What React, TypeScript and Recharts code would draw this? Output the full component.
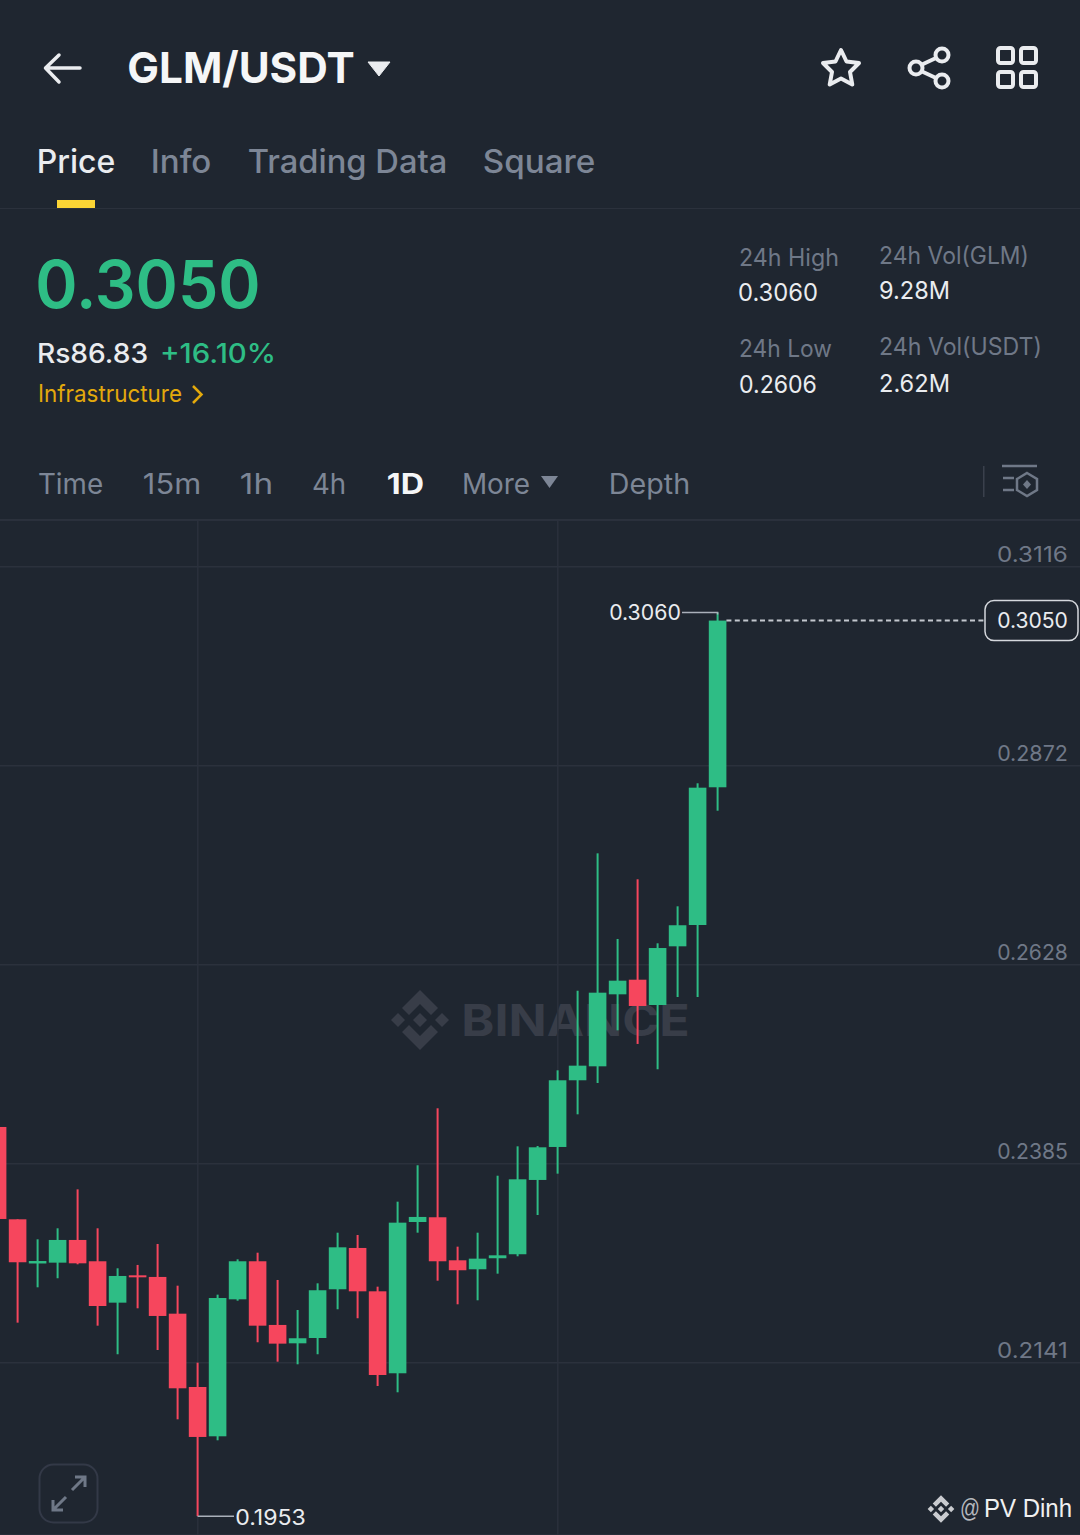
import { ComposedChart, Bar, XAxis, YAxis, CartesianGrid } from 'recharts'

// one slot per day, slots after the last candle stay empty
const slots = [
  'd00', 'd01', 'd02', 'd03', 'd04', 'd05', 'd06', 'd07', 'd08', 'd09', 'd10',
  'd11', 'd12', 'd13', 'd14', 'd15', 'd16', 'd17', 'd18', 'd19', 'd20', 'd21',
  'd22', 'd23', 'd24', 'd25', 'd26', 'd27', 'd28', 'd29', 'd30', 'd31', 'd32',
  'd33', 'd34', 'd35', 'd36', 'd37', 'd38', 'd39', 'd40', 'd41', 'd42', 'd43',
  'd44', 'd45', 'd46', 'd47', 'd48', 'd49', 'd50', 'd51', 'd52', 'd53', 'd54',
]

const opens = [
  0.24297, 0.23166, 0.22625, 0.22635, 0.22913, 0.22652, 0.22145, 0.2248, 0.2246, 0.2201,
  0.21112, 0.20508, 0.22186, 0.22652, 0.21872, 0.21647, 0.21712, 0.22309, 0.22815, 0.22284,
  0.2128, 0.23133, 0.23191, 0.22664, 0.22554, 0.22689, 0.22738, 0.23648, 0.24052, 0.24869,
  0.2504, 0.25922, 0.26101, 0.25791, 0.2651, 0.26771, 0.28458,
]
const closes = [
  0.2317, 0.2264, 0.22655, 0.22913, 0.22627, 0.22104, 0.22472, 0.22456, 0.21982, 0.21096,
  0.205, 0.22202, 0.22652, 0.21863, 0.21643, 0.21709, 0.22297, 0.22823, 0.22284, 0.21259,
  0.23125, 0.23195, 0.22652, 0.22542, 0.22684, 0.22725, 0.23656, 0.24048, 0.24869, 0.25048,
  0.25942, 0.26089, 0.25779, 0.26489, 0.26768, 0.28453, 0.305,
]
const highs = [
  0.24297, 0.23166, 0.22921, 0.23056, 0.23533, 0.23056, 0.22566, 0.22607, 0.22864, 0.22353,
  0.2141, 0.22243, 0.22676, 0.22757, 0.22423, 0.22055, 0.22382, 0.23002, 0.22974, 0.22341,
  0.23382, 0.23828, 0.24526, 0.22831, 0.23002, 0.237, 0.2406, 0.24064, 0.24991, 0.25966,
  0.27649, 0.266, 0.27331, 0.26547, 0.27, 0.28507, 0.306,
]
const lows = [
  0.2317, 0.219, 0.22333, 0.22444, 0.22615, 0.21863, 0.21513, 0.22076, 0.21565, 0.20716,
  0.1953, 0.20459, 0.22169, 0.2166, 0.21422, 0.2139, 0.21513, 0.22064, 0.21954, 0.21124,
  0.21047, 0.23002, 0.22414, 0.22125, 0.22174, 0.225, 0.22713, 0.23219, 0.23725, 0.24452,
  0.24836, 0.25481, 0.25314, 0.25004, 0.25889, 0.25889, 0.28171,
]

const priceTicks = [0.3116, 0.28722, 0.26284, 0.23848, 0.2141]
const dayLines = ['d10', 'd28']
const tabs = [
  { text: 'Price', x: 38, w: 76, active: true },
  { text: 'Info', x: 152, w: 58 },
  { text: 'Trading Data', x: 249, w: 197 },
  { text: 'Square', x: 484, w: 110 },
]
const intervals = [
  { text: 'Time', x: 39, w: 63 },
  { text: '15m', x: 144, w: 56 },
  { text: '1h', x: 241, w: 31 },
  { text: '4h', x: 313, w: 32 },
  { text: '1D', x: 388, w: 35, active: true },
  { text: 'More', x: 463, w: 66 },
  { text: 'Depth', x: 610, w: 79 },
]

const data = slots.map((slot, i) => ({
  slot,
  open: opens[i],
  close: closes[i],
  range: i < opens.length ? [lows[i], highs[i]] : null,
}))

const bg = '#1f2630'
const up = '#2ebd85'
const down = '#f6465d'
const light = '#eaecef'
const grey = '#7d8696'
const lineColor = '#2b313c'
const font = 'Inter, sans-serif'

const highIndex = highs.indexOf(Math.max(...highs))
const lowIndex = lows.indexOf(Math.min(...lows))
const lastIndex = opens.length - 1

function Label({ x, y, w, size, color = light, weight = 400, family = font, children }: any) {
  const bearing = size * 0.04
  return (
    <text x={x - bearing} y={y} textLength={w + bearing * 2} lengthAdjust="spacingAndGlyphs" fontSize={size} fill={color} fontWeight={weight} fontFamily={family}>
      {children}
    </text>
  )
}

function Candle(props: any) {
  const { x, y, width, height, index, payload } = props
  if (!payload || !payload.range) return null
  const [low, high] = payload.range
  const top = Math.min(y, y + height)
  const span = Math.abs(height)
  const perUnit = span / (high - low)
  const yOf = (v: number) => top + (high - v) * perUnit
  const color = payload.close >= payload.open ? up : down
  const mid = x + width / 2
  const bodyTop = yOf(Math.max(payload.open, payload.close))
  const bodyBottom = yOf(Math.min(payload.open, payload.close))
  return (
    <g>
      <line x1={mid} x2={mid} y1={top} y2={top + span} stroke={color} strokeWidth={2} />
      <rect x={x} y={bodyTop} width={width} height={Math.max(bodyBottom - bodyTop, 2)} fill={color} />
      {index === highIndex && (
        <g>
          <polyline points={`${mid},${top + 2} ${mid},${top} 682,${top}`} fill="none" stroke="#aab0ba" strokeWidth={1.5} />
          <Label x={610} y={top + 8} w={70} size={21}>{high.toFixed(4)}</Label>
        </g>
      )}
      {index === lowIndex && (
        <g>
          <line x1={mid} x2={234} y1={top + span} y2={top + span} stroke="#aab0ba" strokeWidth={1.5} />
          <Label x={236} y={top + span + 9} w={69} size={21}>{low.toFixed(4)}</Label>
        </g>
      )}
      {index === lastIndex && (
        <g>
          <line x1={x + width} x2={984} y1={bodyTop} y2={bodyTop} stroke="#c3c7ce" strokeWidth={2} strokeDasharray="5 3.4" />
          <rect x={985} y={bodyTop - 20} width={93} height={40} rx={9} fill={bg} stroke="#d5d8dd" strokeWidth={1.5} />
          <Label x={998} y={bodyTop + 7.5} w={69} size={21.5}>{payload.close.toFixed(4)}</Label>
        </g>
      )}
    </g>
  )
}

function PriceTick({ y, payload }: any) {
  return (
    <Label x={998} y={y - 5} w={69} size={21.5} color="#6f7887">
      {payload.value.toFixed(4)}
    </Label>
  )
}

function BinanceMark({ cx, cy, s, color }: any) {
  // logo is drawn on a -30..30 box and scaled
  return (
    <g transform={`translate(${cx} ${cy}) scale(${s})`} fill={color}>
      <path d="M0 -30 L18 -12 L11 -5 L0 -16 L-11 -5 L-18 -12 Z" />
      <path d="M0 30 L18 12 L11 5 L0 16 L-11 5 L-18 12 Z" />
      <path d="M0 -7 L7 0 L0 7 L-7 0 Z" />
      <path d="M-22 -7 L-15 0 L-22 7 L-29 0 Z" />
      <path d="M22 -7 L29 0 L22 7 L15 0 Z" />
    </g>
  )
}

function Page() {
  return (
    <svg width={1080} height={1535} style={{ position: 'absolute', left: 0, top: 0 }}>
      {/* top bar */}
      <path d="M80 68 H46 M59 55 L45.5 68 L59 82" fill="none" stroke={light} strokeWidth={3.5} strokeLinecap="round" strokeLinejoin="round" />
      <Label x={129} y={83} w={224} size={43} weight={700} color="#f5f6f7">GLM/USDT</Label>
      <path d="M368 62 H390 L379 76 Z" fill={light} stroke={light} strokeLinejoin="round" />
      <polygon
        points="841,50 846.5,61.5 859,63 850,72 852.3,84.5 841,78.5 829.7,84.5 832,72 823,63 835.5,61.5"
        fill="none" stroke={light} strokeWidth={4} strokeLinejoin="round"
      />
      <g fill="none" stroke={light} strokeWidth={4}>
        <path d="M921 65 L936 58 M921 71 L936 78" />
        <circle cx={916} cy={68} r={6.5} />
        <circle cx={942} cy={55} r={6.5} />
        <circle cx={942} cy={81} r={6.5} />
        <rect x={998} y={48} width={15} height={15} rx={2.5} />
        <rect x={1021} y={48} width={15} height={15} rx={2.5} />
        <rect x={998} y={72} width={15} height={15} rx={2.5} />
        <rect x={1021} y={72} width={15} height={15} rx={2.5} />
      </g>

      {/* tabs */}
      {tabs.map((t) => (
        <Label key={t.text} x={t.x} y={173} w={t.w} size={32} weight={500} color={t.active ? light : grey}>{t.text}</Label>
      ))}
      <rect x={57} y={200} width={38} height={8} fill="#fcd535" />
      <rect x={0} y={208} width={1080} height={1} fill={lineColor} />

      {/* price block */}
      <Label x={38} y={308} w={220} size={66} weight={600} color={up}>0.3050</Label>
      <Label x={38} y={363} w={109} size={27} weight={500}>Rs86.83</Label>
      <Label x={161} y={363} w={114} size={27} weight={500} color={up}>+16.10%</Label>
      <Label x={39} y={402} w={142} size={24} color="#e3a90c">Infrastructure</Label>
      <path d="M193 386 L201.5 394.5 L193 403" fill="none" stroke="#e3a90c" strokeWidth={2.5} />

      <Label x={740} y={266} w={98} size={24} color="#6f7887">24h High</Label>
      <Label x={739} y={301} w={78} size={24}>0.3060</Label>
      <Label x={880} y={264} w={148} size={24} color="#6f7887">24h Vol(GLM)</Label>
      <Label x={880} y={299} w={69} size={24}>9.28M</Label>
      <Label x={740} y={357} w={91} size={24} color="#6f7887">24h Low</Label>
      <Label x={740} y={393} w={76} size={24}>0.2606</Label>
      <Label x={880} y={355} w={161} size={24} color="#6f7887">24h Vol(USDT)</Label>
      <Label x={880} y={392} w={69} size={24}>2.62M</Label>

      {/* interval row */}
      {intervals.map((t) => (
        <Label key={t.text} x={t.x} y={494} w={t.w} size={28} weight={t.active ? 700 : 400} color={t.active ? '#f5f6f7' : grey}>{t.text}</Label>
      ))}
      <path d="M541 476 H558 L549.5 488 Z" fill={grey} />
      <rect x={983} y={466} width={1.5} height={31} fill="#3a404c" />
      <g fill="none" stroke="#6f7887" strokeWidth={2.5}>
        <path d="M1002 466 H1037 M1003 478 H1014 M1003 490 H1014" />
        <path d="M1027 473 L1037 479 V490 L1027 496 L1017 490 V479 Z" />
      </g>
      <path d="M1027 480 L1031 484.5 L1027 489 L1023 484.5 Z" fill="#6f7887" />
      <rect x={0} y={519} width={1080} height={2} fill={lineColor} />

      {/* watermark sits under the chart */}
      <BinanceMark cx={420} cy={1020} s={1} color="#383d48" />
      <Label x={463} y={1036} w={225} size={44} weight={700} color="#383d48">BINANCE</Label>

      {/* expand button */}
      <rect x={39.5} y={1464.5} width={58} height={58} rx={14} fill="none" stroke="#333947" strokeWidth={2} />
      <path d="M72 1490 L85 1477 M75 1477 H85 V1487 M66 1497 L53 1510 M53 1500 V1510 H63" fill="none" stroke="#6f7887" strokeWidth={3} />

      {/* credit */}
      <BinanceMark cx={941} cy={1509} s={0.46} color="#c9cbcf" />
      <Label x={961} y={1517} w={18} size={25} color="#b5b8bd" family="Liberation Sans, sans-serif">@</Label>
      <Label x={985} y={1517} w={86} size={25} color="#f0f0f0" family="Liberation Sans, sans-serif">PV Dinh</Label>
    </svg>
  )
}

export default function App() {
  return (
    <div style={{ position: 'relative', width: 1080, height: 1535, background: bg, overflow: 'hidden' }}>
      <style>{'body{margin:0}'}</style>
      <Page />
      <div style={{ position: 'absolute', left: 0, top: 520 }}>
        <ComposedChart width={1080} height={1015} data={data} margin={{ top: 0, right: -7.8, bottom: 0, left: -12.2 }}>
          <CartesianGrid stroke={lineColor} strokeWidth={1.5} />
          <XAxis dataKey="slot" hide ticks={dayLines} interval={0} />
          <YAxis
            orientation="right"
            mirror
            domain={[0.19299, 0.31732]}
            ticks={priceTicks}
            axisLine={false}
            tickLine={false}
            tick={<PriceTick />}
          />
          <Bar dataKey="range" barSize={17.6} shape={<Candle />} isAnimationActive={false} />
        </ComposedChart>
      </div>
    </div>
  )
}
